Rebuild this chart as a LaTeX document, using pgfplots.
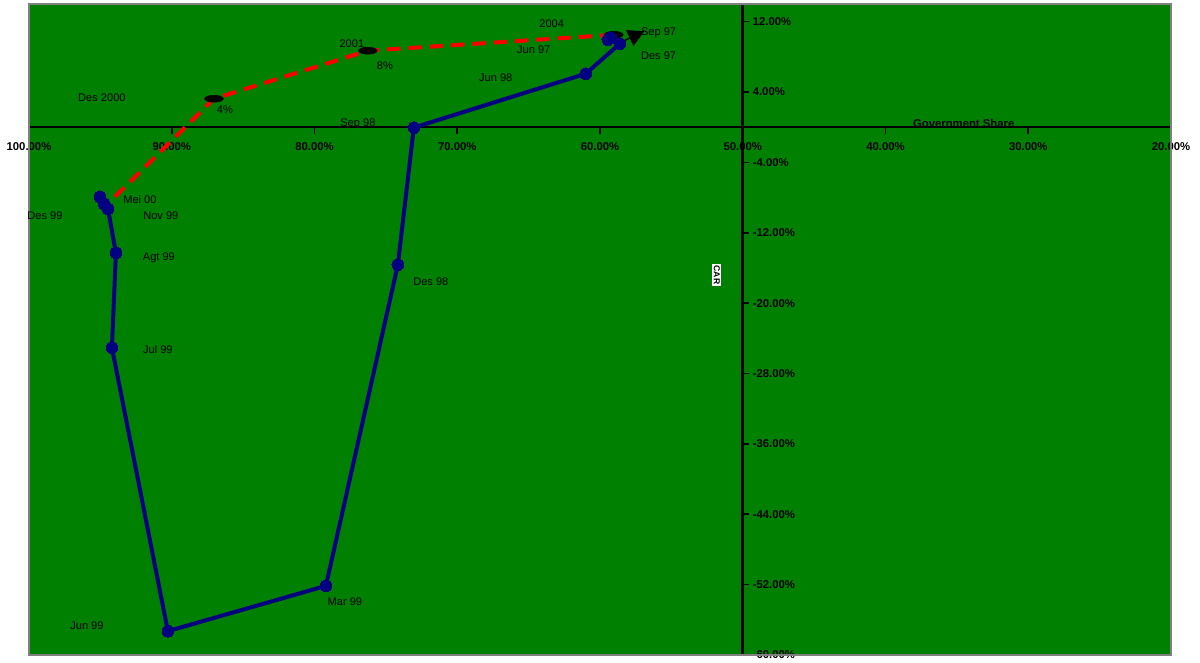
\documentclass[border=0pt]{standalone}
\usepackage{pgfplots}
\pgfplotsset{compat=1.18}
\usepackage{pgfplotstable}
\usepackage{fontspec}
\setmainfont{Liberation Sans}
\usetikzlibrary{arrows.meta}
\definecolor{bg}{RGB}{0,128,0}
\definecolor{navy}{RGB}{0,0,128}
\definecolor{bordergray}{RGB}{128,128,128}
\tikzset{lbl/.style={font=\fontsize{8.3}{10}\selectfont, inner sep=0pt}}

% Government share (%) and CAR (%)
\pgfplotstableread{
share car
59.45 9.94
59.24 10.17
58.61 9.49
61.00 6.07
73.04 -0.05
74.16 -15.65
79.20 -52.14
90.27 -57.29
94.19 -25.06
93.91 -14.29
94.47 -9.28
94.75 -8.71
95.03 -7.92
}\bluedata

\pgfplotstableread{
share car
93.98 -7.92
87.04 3.23
76.26 8.69
59.03 10.50
}\reddata

\pgfplotstableread{
share car
87.04 3.23
76.26 8.69
59.03 10.50
}\ovals

\pgfplotstableread{
share car
58.61 9.60
56.90 10.90
}\arrowdata

\begin{document}
\begin{tikzpicture}
\useasboundingbox (-21.75pt,-5.25pt) rectangle (878.25pt,491.25pt);
\begin{axis}[
  at={(0,0)}, anchor=south west,
  scale only axis, width=856.5pt, height=488.25pt,
  x dir=reverse, xmin=-30, xmax=50, ymin=-60, ymax=14,
  axis lines=middle,
  axis line style={black, line width=2pt, -},
  axis background/.style={fill=bg},
  clip=false,
  xtick={-30,-20,...,50},
  xticklabels={20.00\%,30.00\%,40.00\%,50.00\%,60.00\%,70.00\%,80.00\%,90.00\%,100.00\%},
  ytick={-60,-52,...,12},
  yticklabels={-60.00\%,-52.00\%,-44.00\%,-36.00\%,-28.00\%,-20.00\%,-12.00\%,-4.00\%,4.00\%,12.00\%},
  tick style={black, line width=1.2pt},
  tick align=center,
  major tick length=5pt,
  xtick style={yshift=-2.5pt},
  ytick style={xshift=2.5pt},
  hide obscured x ticks=false,
  hide obscured y ticks=false,
  ticklabel style={font=\fontsize{8.5}{10}\selectfont\bfseries},
  xticklabel style={yshift=-5.5pt},
  yticklabel style={anchor=west, xshift=6.5pt},
]
\addplot[red, line width=3pt, dash pattern=on 10pt off 6pt] table[x expr=\thisrow{share}-50, y=car] {\reddata};
\addplot[only marks, mark=*, mark size=2.6pt, mark options={xscale=2.7, fill=black, draw=black}] table[x expr=\thisrow{share}-50, y=car] {\ovals};
\addplot[black, line width=1pt, -{Triangle[length=12pt,width=13pt]}] table[x expr=\thisrow{share}-50, y=car] {\arrowdata};
\addplot[navy, line width=3pt, mark=*, mark size=4.4pt, mark options={fill=navy, draw=navy, line width=0pt}] table[x expr=\thisrow{share}-50, y=car] {\bluedata};

\draw[bordergray, line width=2pt] (rel axis cs:0,0) rectangle (rel axis cs:1,1);

\node[lbl] at (axis cs:13.38,11.76) {2004};
\node[lbl, anchor=west] at (axis cs:7.14,10.7) {Sep 97};
\node[lbl] at (axis cs:14.64,8.81) {Jun 97};
\node[lbl, anchor=west] at (axis cs:7.14,8.12) {Des 97};
\node[lbl] at (axis cs:27.38,9.49) {2001};
\node[lbl] at (axis cs:25.07,6.99) {8\%};
\node[lbl] at (axis cs:17.30,5.62) {Jun 98};
\node[lbl] at (axis cs:44.89,3.34) {Des 2000};
\node[lbl] at (axis cs:36.27,1.98) {4\%};
\node[lbl] at (axis cs:26.96,0.39) {Sep 98};
\node[lbl] at (axis cs:42.23,-8.26) {Mei 00};
\node[lbl] at (axis cs:48.88,-10.08) {Des 99};
\node[lbl] at (axis cs:40.76,-10.08) {Nov 99};
\node[lbl] at (axis cs:40.90,-14.89) {Agt 99};
\node[lbl] at (axis cs:40.97,-25.32) {Jul 99};
\node[lbl] at (axis cs:21.85,-17.59) {Des 98};
\node[lbl] at (axis cs:27.87,-53.96) {Mar 99};
\node[lbl] at (axis cs:45.94,-56.72) {Jun 99};
\node[font=\fontsize{8.5}{10}\selectfont\bfseries, inner sep=0pt] at (axis cs:-15.48,0.39) {Government Share};
\node[rotate=-90, fill=white, inner sep=1pt, font=\fontsize{6.5}{7}\selectfont\bfseries] at (axis cs:1.82,-16.79) {CAR};
\end{axis}
\end{tikzpicture}
\end{document}
